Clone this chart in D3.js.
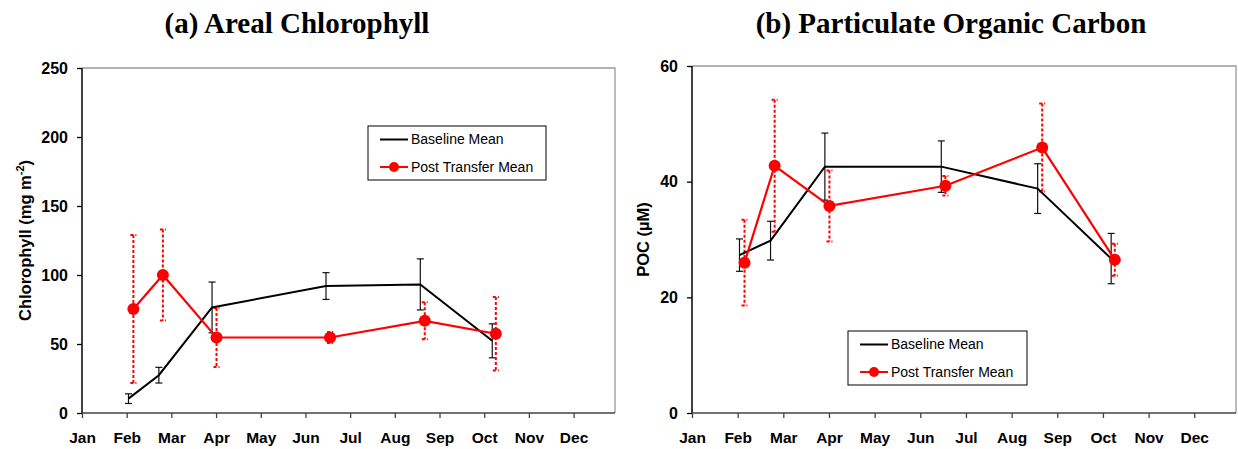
<!DOCTYPE html>
<html>
<head>
<meta charset="utf-8">
<script src="https://cdnjs.cloudflare.com/ajax/libs/d3/7.8.5/d3.min.js"></script>
<style>
  body { margin: 0; background: #fff; }
  svg text { font-family: "Liberation Sans", Arial, sans-serif; }
</style>
</head>
<body>
<div id="canvas"></div>
<script>
// data (x = months since 1 Jan)
var months = ['Jan','Feb','Mar','Apr','May','Jun','Jul','Aug','Sep','Oct','Nov','Dec'];
var baseMonth = [1.04, 1.72, 2.91, 5.46, 7.57, 9.18];
var postMonth = [1.15, 1.81, 3.01, 5.55, 7.67, 9.26];

var chlBase = [10.4, 27.4, 76.5, 92, 93.2, 52.3];
var chlBaseErr = [3.5, 5.7, 18.4, 9.7, 18.5, 12.3];
var chlPost = [75.3, 100, 54.7, 54.7, 66.8, 57.4];
var chlPostErr = [53.6, 33, 21.4, 4, 13.4, 26.6];
var chlTicks = [0, 50, 100, 150, 200, 250];

var pocBase = [27.3, 29.8, 42.6, 42.6, 38.8, 26.7];
var pocBaseErr = [2.8, 3.35, 5.8, 4.45, 4.3, 4.35];
var pocPost = [26.0, 42.75, 35.8, 39.3, 45.9, 26.5];
var pocPostErr = [7.4, 11.4, 6.15, 1.7, 7.6, 2.75];
var pocTicks = [0, 20, 40, 60];

var seriesNames = ['Baseline Mean', 'Post Transfer Mean'];

var W = 1238, H = 449;

var svg = d3.select('#canvas')
    .append('svg')
    .attr('width', W)
    .attr('height', H);

var panels = [
    {title: '(a) Areal Chlorophyll', titleX: 297, left: 82, right: 615, monthW: 44.69, top: 68, bottom: 413,
     ymax: 250, ticks: chlTicks, base: chlBase, baseErr: chlBaseErr, post: chlPost, postErr: chlPostErr,
     ylabel: 'chl', ylabelX: 25, legend: {x: 368, y: 126, w: 178, h: 54}},
    {title: '(b) Particulate Organic Carbon', titleX: 951, left: 692, right: 1236, monthW: 45.66, top: 66, bottom: 413,
     ymax: 60, ticks: pocTicks, base: pocBase, baseErr: pocBaseErr, post: pocPost, postErr: pocPostErr,
     ylabel: 'poc', ylabelX: 643, legend: {x: 848, y: 331, w: 179, h: 54}}
];

panels.forEach(drawPanel);

function drawPanel(p){
    var x = d3.scaleLinear().domain([0, 12]).range([p.left, p.left + 12 * p.monthW]);
    var y = d3.scaleLinear().domain([0, p.ymax]).range([p.bottom, p.top]);

    var g = svg.append('g');

    // title
    g.append('text')
        .attr('x', p.titleX).attr('y', 33)
        .attr('text-anchor', 'middle')
        .style('font-family', '"Liberation Serif", "Times New Roman", serif')
        .style('font-weight', 'bold')
        .style('font-size', '29px')
        .text(p.title);

    // frame: top and right in grey
    g.append('path')
        .attr('d', 'M' + p.left + ',' + p.top + 'H' + p.right + 'V' + p.bottom)
        .style('fill', 'none').style('stroke', '#9a9a9a').style('stroke-width', 1.3);

    // y axis
    var yAxis = d3.axisLeft(y).tickValues(p.ticks).tickSize(5).tickPadding(9).tickFormat(d3.format('d'));
    var ya = g.append('g').attr('transform', 'translate(' + p.left + ',0)').call(yAxis);
    ya.select('.domain').attr('d', 'M0,' + p.top + 'V' + p.bottom).style('stroke', '#000').style('stroke-width', 1.5);
    ya.selectAll('.tick line').style('stroke', '#000').style('stroke-width', 1.3);
    ya.selectAll('.tick text').style('font-size', '16px').style('font-weight', 'bold').style('fill', '#000')
        .style('font-family', '"Liberation Sans", Arial, sans-serif');

    // x axis
    var xAxis = d3.axisBottom(x).tickValues(d3.range(12)).tickSize(5).tickPadding(14)
        .tickFormat(function(d){ return months[d]; });
    var xa = g.append('g').attr('transform', 'translate(0,' + p.bottom + ')').call(xAxis);
    xa.select('.domain').attr('d', 'M' + p.left + ',0H' + p.right).style('stroke', '#444').style('stroke-width', 1.5);
    xa.selectAll('.tick line').style('stroke', '#444').style('stroke-width', 1.3);
    xa.selectAll('.tick text').style('font-size', '15.5px').style('font-weight', 'bold').style('fill', '#000')
        .style('font-family', '"Liberation Sans", Arial, sans-serif');

    // y label
    var yl = g.append('text')
        .attr('transform', 'translate(' + p.ylabelX + ',' + ((p.top + p.bottom) / 2) + ') rotate(-90)')
        .attr('text-anchor', 'middle')
        .attr('dy', '0.35em')
        .style('font-size', '16.5px').style('font-weight', 'bold');
    if (p.ylabel == 'chl') {
        yl.append('tspan').text('Chlorophyll (mg m');
        yl.append('tspan').attr('dy', '-7').style('font-size', '11px').text('-2');
        yl.append('tspan').attr('dy', '7').text(')');
    } else {
        yl.text('POC (\u00b5M)');
    }

    var base = p.base.map(function(v, i){ return {m: baseMonth[i], v: v, e: p.baseErr[i]}; });
    var post = p.post.map(function(v, i){ return {m: postMonth[i], v: v, e: p.postErr[i]}; });

    var line = d3.line().x(function(d){ return x(d.m); }).y(function(d){ return y(d.v); });

    // baseline error bars
    var be = g.selectAll('.berr').data(base).enter().append('g').attr('class', 'berr')
        .style('stroke', '#111').style('stroke-width', 1.2);
    be.append('line')
        .attr('x1', function(d){ return x(d.m); }).attr('x2', function(d){ return x(d.m); })
        .attr('y1', function(d){ return y(d.v + d.e); }).attr('y2', function(d){ return y(d.v - d.e); });
    be.append('line')
        .attr('x1', function(d){ return x(d.m) - 3.5; }).attr('x2', function(d){ return x(d.m) + 3.5; })
        .attr('y1', function(d){ return y(d.v + d.e); }).attr('y2', function(d){ return y(d.v + d.e); });
    be.append('line')
        .attr('x1', function(d){ return x(d.m) - 3.5; }).attr('x2', function(d){ return x(d.m) + 3.5; })
        .attr('y1', function(d){ return y(d.v - d.e); }).attr('y2', function(d){ return y(d.v - d.e); });

    // post transfer error bars (dotted)
    var pe = g.selectAll('.perr').data(post).enter().append('g').attr('class', 'perr')
        .style('stroke', '#ff0000').style('stroke-width', 2).style('stroke-dasharray', '3,2');
    pe.append('line')
        .attr('x1', function(d){ return x(d.m); }).attr('x2', function(d){ return x(d.m); })
        .attr('y1', function(d){ return y(d.v + d.e); }).attr('y2', function(d){ return y(d.v - d.e); });
    pe.append('line')
        .attr('x1', function(d){ return x(d.m) - 3; }).attr('x2', function(d){ return x(d.m) + 3; })
        .attr('y1', function(d){ return y(d.v + d.e); }).attr('y2', function(d){ return y(d.v + d.e); });
    pe.append('line')
        .attr('x1', function(d){ return x(d.m) - 3; }).attr('x2', function(d){ return x(d.m) + 3; })
        .attr('y1', function(d){ return y(d.v - d.e); }).attr('y2', function(d){ return y(d.v - d.e); });

    g.append('path').datum(base).attr('d', line)
        .style('fill', 'none').style('stroke', '#000').style('stroke-width', 2);
    g.append('path').datum(post).attr('d', line)
        .style('fill', 'none').style('stroke', '#ff0000').style('stroke-width', 2.2);
    g.selectAll('.dot').data(post).enter().append('circle').attr('class', 'dot')
        .attr('cx', function(d){ return x(d.m); }).attr('cy', function(d){ return y(d.v); })
        .attr('r', 6).style('fill', '#ff0000');

    // legend
    var L = p.legend;
    var lg = g.append('g').attr('transform', 'translate(' + L.x + ',' + L.y + ')');
    lg.append('rect').attr('width', L.w).attr('height', L.h)
        .style('fill', '#fff').style('stroke', '#000').style('stroke-width', 1);
    seriesNames.forEach(function(name, i){
        var ly = 13.5 + i * 27.5;
        var col = i == 0 ? '#000' : '#ff0000';
        lg.append('line').attr('x1', 12).attr('x2', 40).attr('y1', ly).attr('y2', ly)
            .style('stroke', col).style('stroke-width', 2);
        if (i == 1) lg.append('circle').attr('cx', 26).attr('cy', ly).attr('r', 5).style('fill', col);
        lg.append('text').attr('x', 43).attr('y', ly).attr('dy', '0.35em')
            .style('font-size', '14px').text(name);
    });
}
</script>
</body>
</html>
